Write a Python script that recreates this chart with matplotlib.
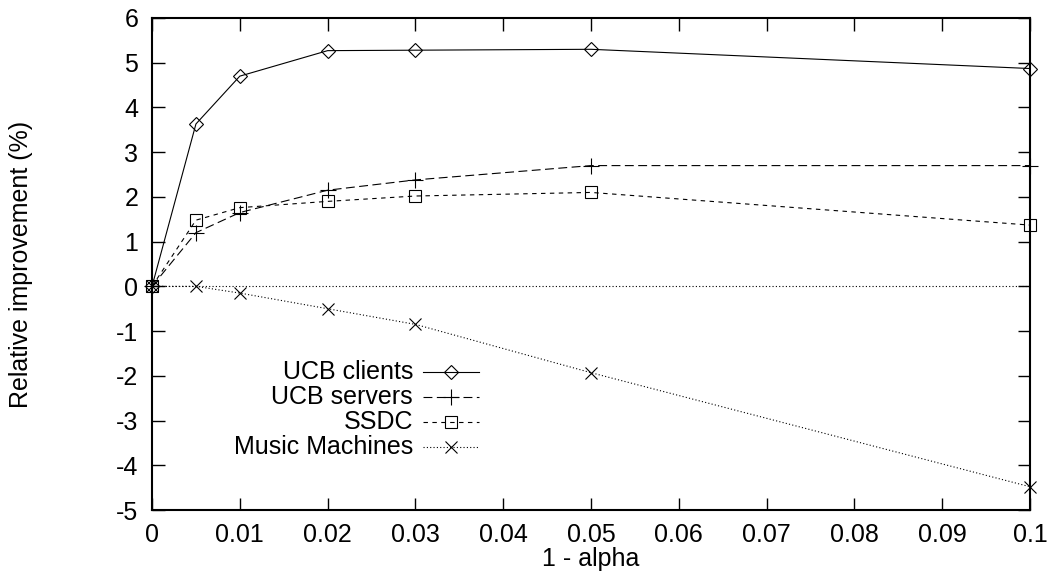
import matplotlib
matplotlib.use("Agg")
import matplotlib.pyplot as plt

plt.rcParams['font.family'] = ['Liberation Sans', 'DejaVu Sans']
plt.rcParams['axes.unicode_minus'] = False

alpha = [0, 0.005, 0.01, 0.02, 0.03, 0.05, 0.1]
ucb_clients = [0, 3.63, 4.70, 5.27, 5.28, 5.30, 4.87]
ucb_servers = [0, 1.20, 1.65, 2.15, 2.38, 2.70, 2.70]
ssdc = [0, 1.48, 1.76, 1.90, 2.02, 2.10, 1.37]
music_machines = [0, 0, -0.15, -0.50, -0.85, -1.93, -4.48]

labels = ['UCB clients', 'UCB servers', 'SSDC', 'Music Machines']
series = [ucb_clients, ucb_servers, ssdc, music_machines]
markers = ['D', '+', 's', 'x']
msizes = [7, 11, 9, 9]
dashes = [(None, None), (8, 4), (4, 4), (1, 2)]

FS = 18

fig = plt.figure(figsize=(10.47, 5.71), dpi=100)
ax = fig.add_axes([0.1452, 0.1068, 0.8386, 0.8617])

# zero axis
ax.axhline(0, color='black', linewidth=0.8, linestyle=(0, (1, 2)))

for lab, ys, m, ms, d in zip(labels, series, markers, msizes, dashes):
    line, = ax.plot(alpha, ys, color='black', linewidth=0.8, marker=m,
                    markersize=ms, markerfacecolor='none', markeredgewidth=0.8,
                    clip_on=False, zorder=3)
    if d[0] is not None:
        line.set_dashes(d)

ax.set_xlim(0, 0.1)
ax.set_ylim(-5, 6)
ax.set_xticks([i / 100 for i in range(11)])
ax.set_xticklabels(['0', '0.01', '0.02', '0.03', '0.04', '0.05', '0.06',
                    '0.07', '0.08', '0.09', '0.1'])
ax.set_yticks(range(-5, 7))
ax.tick_params(direction='in', length=9, width=1, top=True, right=True,
               labelsize=FS)
ax.tick_params(axis='y', pad=10)
ax.tick_params(axis='x', pad=9)
for s in ax.spines.values():
    s.set_linewidth(1.5)

ax.set_xlabel('1 - alpha', fontsize=FS)
ax.set_ylabel('Relative improvement (%)', fontsize=FS)
ax.xaxis.set_label_coords(0.5, -0.075)
ax.yaxis.set_label_coords(-0.1355, 0.5)

# gnuplot-style key: right-aligned text, sample line to the right
def ax_x(px):
    return (px - 152) / 878

def ax_y(py):
    return (510 - py) / 492

for i, (lab, m, ms, d) in enumerate(zip(labels, markers, msizes, dashes)):
    py = 372 + 25 * i
    ax.text(ax_x(413), ax_y(py), lab, transform=ax.transAxes, ha='right',
            va='center', fontsize=FS)
    ln, = ax.plot([ax_x(423), ax_x(479)], [ax_y(py), ax_y(py)],
                  transform=ax.transAxes, color='black', linewidth=0.8)
    if d[0] is not None:
        ln.set_dashes(d)
    ax.plot([ax_x(451)], [ax_y(py)], transform=ax.transAxes, color='black',
            marker=m, markersize=ms, markerfacecolor='none',
            markeredgewidth=0.8, linestyle='none')

fig.savefig('out.png', dpi=100)
